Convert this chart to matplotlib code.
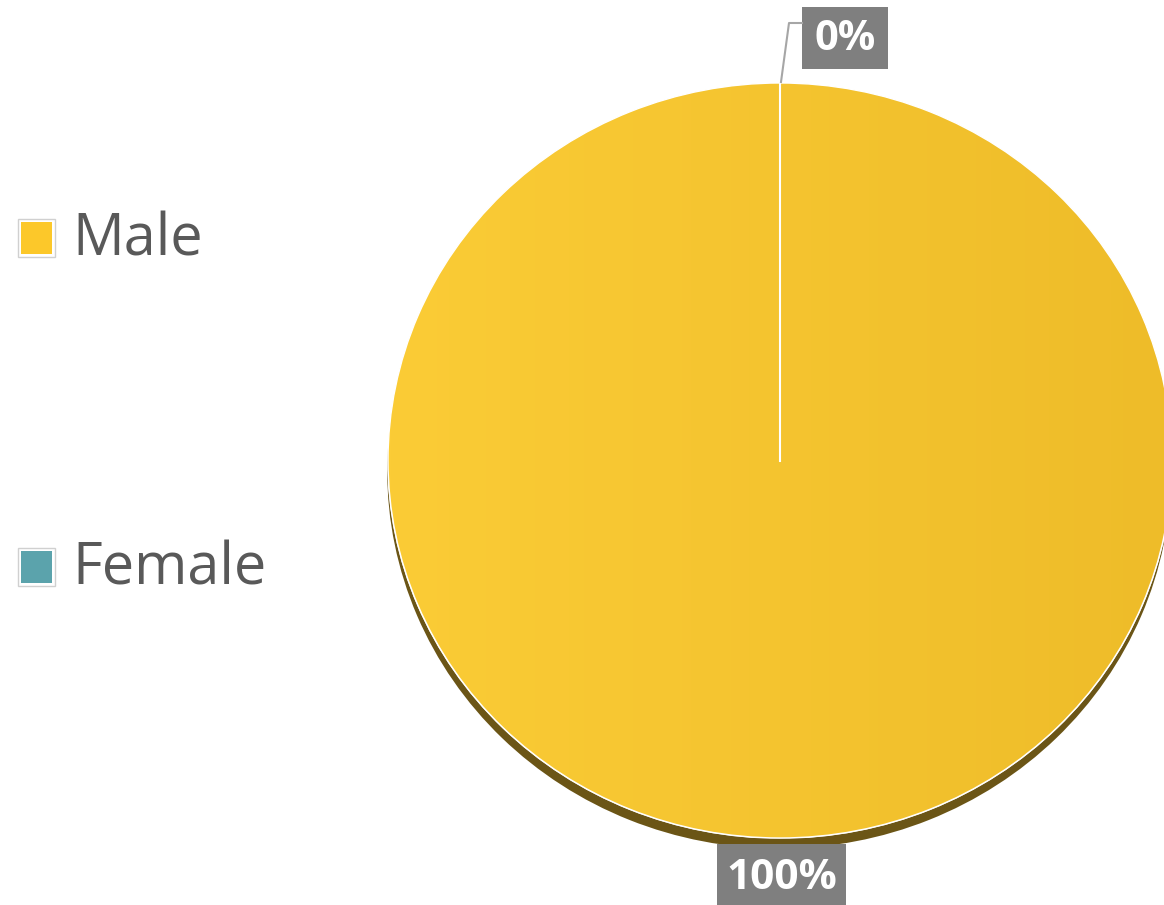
import matplotlib
matplotlib.use("Agg")
import matplotlib.pyplot as plt
import numpy as np
from matplotlib.patches import Rectangle, Wedge
from matplotlib.colors import LinearSegmentedColormap

categories = ["Male", "Female"]
values = [100, 0]
labels = ["100%", "0%"]
colors = ["#F7C52F", "#5BA3AC"]

W, H = 1164, 905
fig = plt.figure(figsize=(W / 100, H / 100), dpi=100)

# pie axes (slightly elliptical, as in reference)
ax = fig.add_axes([388 / W, (H - 838) / H, 784 / W, 755 / H])

# shadow
ax.pie(values, startangle=90, counterclock=False, radius=1.0,
       center=(-0.002, -0.028), colors=["#6B5516", "#6B5516"],
       wedgeprops=dict(linewidth=0), frame=True)

wedges, _ = ax.pie(values, startangle=90, counterclock=False, radius=1.0,
                   colors=colors, wedgeprops=dict(edgecolor="white", linewidth=1.2),
                   frame=True)
ax.set_aspect("auto")
ax.axis("off")

# gradient fill over the Male wedge
grad = np.linspace(0, 1, 256).reshape(1, -1)
cmap = LinearSegmentedColormap.from_list("g", ["#FBCC36", "#EEBC29"])
im = ax.imshow(grad, extent=(-1, 1, -1, 1), cmap=cmap, aspect="auto", zorder=1.5)
im.set_clip_path(wedges[0])
wedges[0].set_zorder(1)
ax.plot([0, 0], [0, 1], color="white", lw=1.5, zorder=3)
ax.add_patch(Wedge((0, 0), 1.0, 0, 360, facecolor="none",
                   edgecolor="white", lw=1.0, zorder=3))
ax.set_xlim(-1, 1)
ax.set_ylim(-1, 1)
ax.set_aspect("auto")


def px(x, y):
    return x / W, 1 - y / H


# 0% label with leader line
fig.add_artist(plt.Line2D([781 / W, 789 / W, 802 / W], [1 - 82 / H, 1 - 23 / H, 1 - 23 / H],
                          color="#A6A6A6", lw=1.5))
fig.add_artist(Rectangle(px(802, 69), 86 / W, 62 / H, facecolor="#7F7F7F",
                         edgecolor="none"))
fig.text(845 / W, 1 - 40 / H, labels[1], ha="center", va="center", color="white",
         fontsize=30, fontweight="bold", family="Open Sans")

# 100% label
fig.add_artist(Rectangle(px(717, 905), 129 / W, 61 / H, facecolor="#7F7F7F",
                         edgecolor="none"))
fig.text(782 / W, 1 - 878 / H, labels[0], ha="center", va="center", color="white",
         fontsize=30.5, fontweight="bold", family="Open Sans")

# legend
leg_y = [238, 567]
for cat, col, y in zip(categories, colors, leg_y):
    fig.add_artist(Rectangle(px(18, y + 19), 37 / W, 38 / H, facecolor="white",
                             edgecolor="#D0D0D0", lw=1))
    fig.add_artist(Rectangle(px(21, y + 16), 31 / W, 32 / H,
                             facecolor=("#FCC82A" if cat == "Male" else col),
                             edgecolor="none"))
    fig.text(72 / W, 1 - (y + 2) / H, cat, ha="left", va="center", color="#595959",
             fontsize=41.5, family="Open Sans")

fig.savefig("out.png", dpi=100, facecolor="white")
